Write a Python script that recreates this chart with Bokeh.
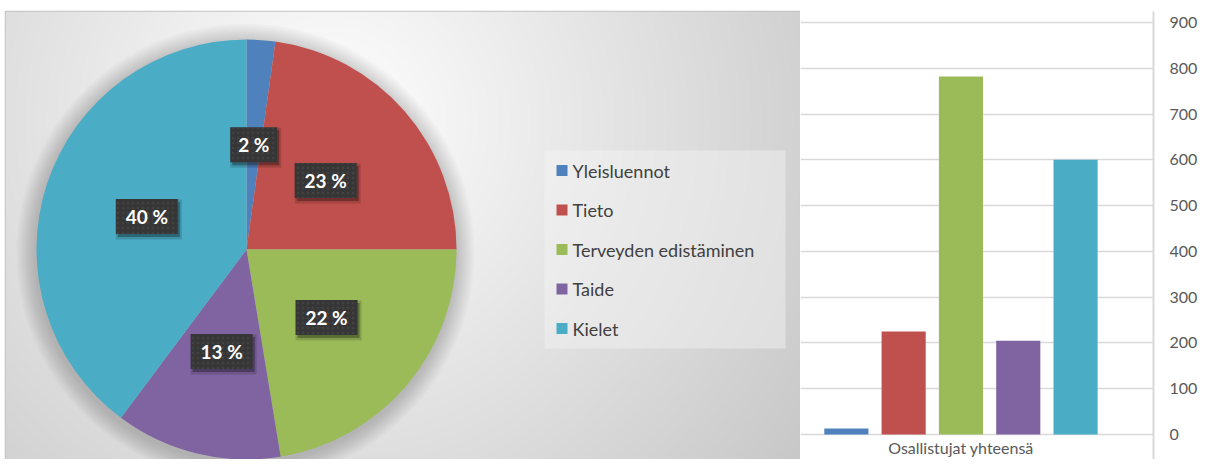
import numpy as np
from bokeh.plotting import figure
from bokeh.layouts import row
from bokeh.models import Range1d, ColumnDataSource, FixedTicker
from bokeh.core.properties import value
from bokeh.embed import file_html
from bokeh.resources import INLINE

# ---------------- data ----------------
categories = ["Yleisluennot", "Tieto", "Terveyden edistäminen", "Taide", "Kielet"]
colors = ["#4f81bd", "#c0504d", "#9bbb59", "#8064a2", "#4bacc6"]
pie_share = [2.2, 22.8, 22.4, 12.8, 39.8]
pie_labels = ["2 %", "23 %", "22 %", "13 %", "40 %"]
participants = [13, 225, 782, 205, 600]
y_ticks = [0, 100, 200, 300, 400, 500, 600, 700, 800, 900]
bar_group = "Osallistujat yhteensä"

FONT = "Lato"
TOP = 11          # white strip above both panels
FH = 448          # frame height of both panels
YREF = 475        # data y = YREF - pixel row

# ---------------- left panel: pie ----------------
pA = figure(frame_width=795, frame_height=FH,
            x_range=Range1d(5, 800), y_range=Range1d(YREF - TOP - FH, YREF - TOP),
            output_backend="svg", toolbar_location=None,
            min_border_left=5, min_border_top=TOP, min_border_right=0, min_border_bottom=0)
pA.axis.visible = False
pA.grid.visible = False
pA.outline_line_color = "#c2c2c2"
pA.outline_line_width = 1.5
pA.background_fill_color = "#dddddd"

# radial gray gradient background
hh, ww = FH // 2, 795 // 2
jj, ii = np.mgrid[0:hh, 0:ww]
gx = 5 + (ii + 0.5) * 795 / ww
gy = (YREF - TOP - FH) + (jj + 0.5) * FH / hh
row_px = YREF - gy
d = np.hypot(gx - 330, row_px - 120)
c = np.clip(255 - 0.095 * d, 188, 252).astype(np.uint32)
img = (np.uint32(255) << 24) | (c << 16) | (c << 8) | c
pA.image_rgba(image=[img], x=5, y=YREF - TOP - FH, dw=795, dh=FH)

cx, cy, R = 246.0, YREF - 249.0, 210.0

# soft shadow around the pie
for k in range(12):
    pA.circle(x=cx - 1, y=cy - 3, radius=R + 1.5 + k * 1.6,
              fill_color="black", fill_alpha=0.016, line_color=None)

share = np.array(pie_share, dtype=float)
frac = share / share.sum()
cum = np.cumsum(frac)
prev = cum - frac
start = np.pi / 2 - 2 * np.pi * prev
end = np.pi / 2 - 2 * np.pi * cum
mid = np.pi / 2 - 2 * np.pi * (prev + frac / 2)

pie_src = ColumnDataSource(dict(start=start, end=end, color=colors, cat=categories))
pA.wedge(x=cx, y=cy, radius=R, start_angle="start", end_angle="end",
         direction="clock", fill_color="color", line_color=None, source=pie_src)

lx = cx + 0.5 * R * np.cos(mid)
ly = cy + 0.5 * R * np.sin(mid)
bw = [15 * len(t) + 2 for t in pie_labels]
lab_src = ColumnDataSource(dict(x=lx, y=ly, sx=lx + 2, sy=ly - 3, w=bw,
                                w2=[w + 4 for w in bw], t=pie_labels))
pA.rect(x="sx", y="sy", width="w2", height=40, width_units="screen", height_units="screen",
        fill_color="black", fill_alpha=0.15, line_color=None, source=lab_src)
pA.rect(x="sx", y="sy", width="w", height=35, width_units="screen", height_units="screen",
        fill_color="black", fill_alpha=0.3, line_color=None, source=lab_src)
pA.rect(x="x", y="y", width="w", height=35, width_units="screen", height_units="screen",
        fill_color="#363636", line_color=None, hatch_pattern=".", hatch_color="#4a4a4a",
        hatch_alpha=0.6, hatch_scale=5, source=lab_src)
pA.text(x="x", y="y", text="t", text_align="center", text_baseline="middle",
        text_color="white", text_font=value(FONT), text_font_style="bold",
        text_font_size="19px", source=lab_src)

# legend
n = len(categories)
leg_first, leg_step = YREF - 170.0, 39.5
leg_y = [leg_first - i * leg_step for i in range(n)]
pA.rect(x=664.5, y=YREF - 249.0, width=241, height=198, fill_color="#f4f4f4",
        fill_alpha=0.45, line_color=None)
leg_src = ColumnDataSource(dict(x=[561.5] * n, tx=[572] * n, y=leg_y, color=colors, cat=categories))
pA.rect(x="x", y="y", width=11, height=11, width_units="screen", height_units="screen",
        fill_color="color", line_color=None, source=leg_src)
pA.text(x="tx", y="y", text="cat", text_align="left", text_baseline="middle",
        text_color="#404040", text_font=value(FONT), text_font_size="18px", source=leg_src)

# ---------------- right panel: bars ----------------
xs = np.arange(len(categories), dtype=float)
pB = figure(frame_width=353, frame_height=FH, x_range=Range1d(-0.80, 5.36),
            y_range=Range1d(-54.6, 924), y_axis_location="right",
            output_backend="svg", toolbar_location=None,
            min_border_left=0, min_border_top=TOP, min_border_bottom=0, min_border_right=40)
pB.xaxis.visible = False
pB.xgrid.visible = False
pB.outline_line_color = None
pB.ygrid.ticker = FixedTicker(ticks=y_ticks)
pB.ygrid.grid_line_color = "#d9d9d9"
pB.ygrid.grid_line_width = 1.5
pB.yaxis.ticker = FixedTicker(ticks=y_ticks)
pB.yaxis.major_tick_line_color = None
pB.yaxis.minor_tick_line_color = None
pB.yaxis.axis_line_color = "#d9d9d9"
pB.yaxis.axis_line_width = 2
pB.yaxis.major_label_text_color = "#595959"
pB.yaxis.major_label_text_font = FONT
pB.yaxis.major_label_text_font_size = "16px"
pB.yaxis.major_label_standoff = 10

bar_src = ColumnDataSource(dict(x=xs, top=participants, color=colors, cat=categories))
pB.vbar(x="x", top="top", bottom=0, width=0.77, fill_color="color", line_color=None, source=bar_src)
pB.text(x=[float(xs.mean())], y=[-28.5], text=[bar_group], text_align="center",
        text_baseline="middle", text_color="#595959", text_font=value(FONT),
        text_font_size="16px")

layout = row(pA, pB, spacing=0)
open("out.html", "w").write(file_html(layout, INLINE))
